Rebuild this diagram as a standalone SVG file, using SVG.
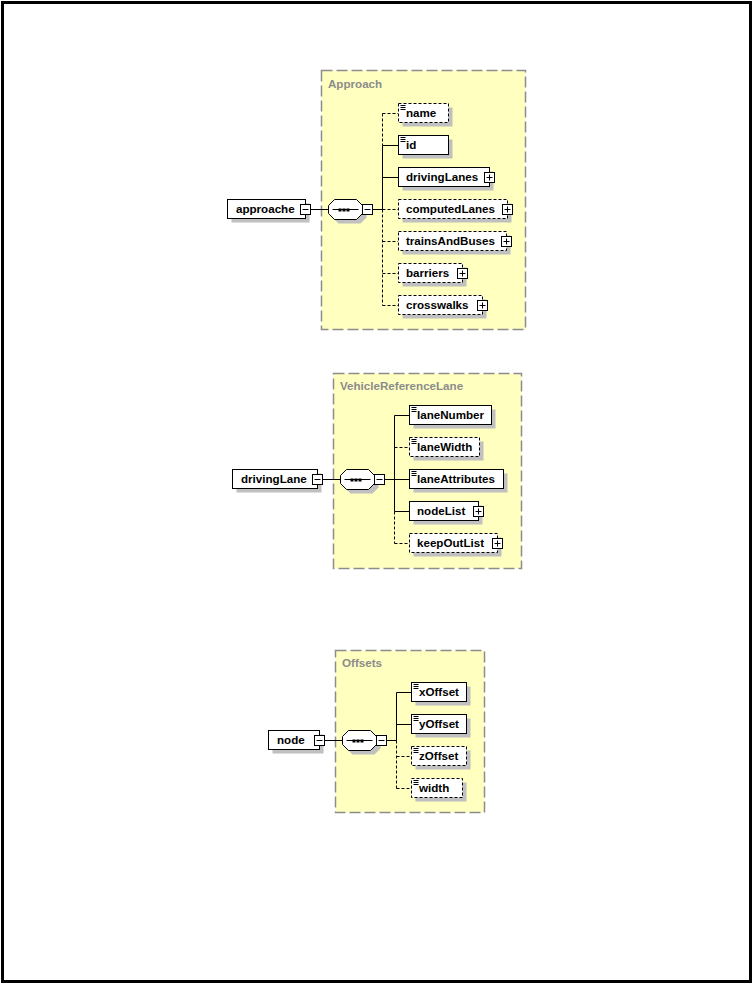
<svg xmlns="http://www.w3.org/2000/svg" width="753" height="985" viewBox="0 0 753 985">
<style>
.frame{fill:#fff;stroke:#000;stroke-width:3}
.grp{fill:#ffffc0;stroke:#8c8c8c;stroke-width:1.5;stroke-dasharray:11 4}
.gt{font-family:"Liberation Sans",Arial,sans-serif;font-weight:bold;font-size:11.6px;fill:#8c8c8c}
.sh{fill:#c0c0c0;stroke:none}
.bx{fill:#fff;stroke:#000;stroke-width:1}
.bd{fill:#fff;stroke:#000;stroke-width:1;stroke-dasharray:3 2}
.t{font-family:"Liberation Sans",Arial,sans-serif;font-weight:bold;font-size:11.6px;fill:#000}
.ln{stroke:#000;stroke-width:1;fill:none}
.dl{stroke:#000;stroke-width:1;fill:none;stroke-dasharray:3 2}
.ic{fill:#fff;stroke:#000;stroke-width:1}
.dot{fill:#000}
</style>
<defs>
<g id="plus"><rect class="ic" x="0" y="0" width="10" height="10"/><path class="ln" d="M2 5H8M5 2V8"/></g>
<g id="minus"><rect class="ic" x="0" y="0" width="10" height="10"/><path class="ln" d="M2 5H8"/></g>
<g id="doc"><path class="ln" d="M2 2H7M2 4H7M2 6H7"/></g>
<g id="seq">
<polygon class="sh" points="10,4 32,4 38,10 38,18 32,24 10,24 4,18 4,10"/>
<polygon class="bx" points="6,0 28,0 34,6 34,14 28,20 6,20 0,14 0,6"/>
<path class="ln" d="M4 10H30"/>
<rect class="dot" x="10" y="9" width="3" height="3"/>
<rect class="dot" x="14" y="9" width="3" height="3"/>
<rect class="dot" x="18" y="9" width="3" height="3"/>
<use href="#minus" x="34" y="5"/>
</g>
</defs>
<rect class="frame" x="2.5" y="2.5" width="748" height="979"/>

<!-- ===== Approach ===== -->
<g id="grp-approach">
<rect class="grp" x="321.5" y="70.5" width="204" height="259"/>
<text class="gt" x="328" y="88">Approach</text>
</g>
<g id="connectors-approach">
<path class="ln" d="M310.5 209.5H328.5M372.5 209.5H382.5"/>
<path class="dl" d="M382.5 113.5V145.5"/>
<path class="ln" d="M382.5 145.5V209.5"/>
<path class="dl" d="M382.5 209.5V305.5"/>
<path class="dl" d="M382.5 113.5H398"/>
<path class="ln" d="M382.5 145.5H398M382.5 177.5H398"/>
<path class="dl" d="M382.5 209.5H398M382.5 241.5H398M382.5 273.5H398M382.5 305.5H398"/>
</g>
<g id="approache">
<rect class="sh" x="231.5" y="203.5" width="78" height="19"/>
<rect class="bx" x="227.5" y="199.5" width="78" height="19"/>
<text class="t" x="236" y="213">approache</text>
<use href="#minus" x="300.5" y="204.5"/>
</g>
<g id="approach-seq"><use href="#seq" x="328.5" y="199.5"/></g>
<g id="name">
<rect class="sh" x="402.5" y="107.5" width="50" height="19"/>
<rect class="bd" x="398.5" y="103.5" width="50" height="19"/>
<use href="#doc" x="398.5" y="103.5"/>
<text class="t" x="406" y="117">name</text>
</g>
<g id="id">
<rect class="sh" x="402.5" y="139.5" width="50" height="19"/>
<rect class="bx" x="398.5" y="135.5" width="50" height="19"/>
<use href="#doc" x="398.5" y="135.5"/>
<text class="t" x="406" y="149">id</text>
</g>
<g id="drivingLanes">
<rect class="sh" x="402.5" y="171.5" width="91" height="19"/>
<rect class="bx" x="398.5" y="167.5" width="91" height="19"/>
<text class="t" x="406" y="181">drivingLanes</text>
<use href="#plus" x="484.5" y="172.5"/>
</g>
<g id="computedLanes">
<rect class="sh" x="402.5" y="203.5" width="109" height="19"/>
<rect class="bd" x="398.5" y="199.5" width="109" height="19"/>
<text class="t" x="406" y="213">computedLanes</text>
<use href="#plus" x="502.5" y="204.5"/>
</g>
<g id="trainsAndBuses">
<rect class="sh" x="402.5" y="235.5" width="108" height="19"/>
<rect class="bd" x="398.5" y="231.5" width="108" height="19"/>
<text class="t" x="406" y="245">trainsAndBuses</text>
<use href="#plus" x="501.5" y="236.5"/>
</g>
<g id="barriers">
<rect class="sh" x="402.5" y="267.5" width="64" height="19"/>
<rect class="bd" x="398.5" y="263.5" width="64" height="19"/>
<text class="t" x="406" y="277">barriers</text>
<use href="#plus" x="457.5" y="268.5"/>
</g>
<g id="crosswalks">
<rect class="sh" x="402.5" y="299.5" width="84" height="19"/>
<rect class="bd" x="398.5" y="295.5" width="84" height="19"/>
<text class="t" x="406" y="309">crosswalks</text>
<use href="#plus" x="477.5" y="300.5"/>
</g>

<!-- ===== VehicleReferenceLane ===== -->
<g id="grp-vrl">
<rect class="grp" x="333.5" y="373.5" width="188" height="195"/>
<text class="gt" x="340" y="390">VehicleReferenceLane</text>
</g>
<g id="connectors-vrl">
<path class="ln" d="M322.5 479.5H340.5M384.5 479.5H394.5"/>
<path class="ln" d="M394.5 415.5V511.5"/>
<path class="dl" d="M394.5 511.5V543.5"/>
<path class="ln" d="M394.5 415.5H410M394.5 479.5H410M394.5 511.5H410"/>
<path class="dl" d="M394.5 447.5H410M394.5 543.5H410"/>
</g>
<g id="drivingLane">
<rect class="sh" x="236.5" y="473.5" width="85" height="19"/>
<rect class="bx" x="232.5" y="469.5" width="85" height="19"/>
<text class="t" x="241" y="483">drivingLane</text>
<use href="#minus" x="312.5" y="474.5"/>
</g>
<g id="vrl-seq"><use href="#seq" x="340.5" y="469.5"/></g>
<g id="laneNumber">
<rect class="sh" x="413.5" y="409.5" width="82" height="19"/>
<rect class="bx" x="409.5" y="405.5" width="82" height="19"/>
<use href="#doc" x="409.5" y="405.5"/>
<text class="t" x="417" y="419">laneNumber</text>
</g>
<g id="laneWidth">
<rect class="sh" x="413.5" y="441.5" width="70" height="19"/>
<rect class="bd" x="409.5" y="437.5" width="70" height="19"/>
<use href="#doc" x="409.5" y="437.5"/>
<text class="t" x="417" y="451">laneWidth</text>
</g>
<g id="laneAttributes">
<rect class="sh" x="413.5" y="473.5" width="94" height="19"/>
<rect class="bx" x="409.5" y="469.5" width="94" height="19"/>
<use href="#doc" x="409.5" y="469.5"/>
<text class="t" x="417" y="483">laneAttributes</text>
</g>
<g id="nodeList">
<rect class="sh" x="413.5" y="505.5" width="69" height="19"/>
<rect class="bx" x="409.5" y="501.5" width="69" height="19"/>
<text class="t" x="417" y="515">nodeList</text>
<use href="#plus" x="473.5" y="506.5"/>
</g>
<g id="keepOutList">
<rect class="sh" x="413.5" y="537.5" width="88" height="19"/>
<rect class="bd" x="409.5" y="533.5" width="88" height="19"/>
<text class="t" x="417" y="547">keepOutList</text>
<use href="#plus" x="492.5" y="538.5"/>
</g>

<!-- ===== Offsets ===== -->
<g id="grp-offsets">
<rect class="grp" x="335.5" y="650.5" width="149" height="162"/>
<text class="gt" x="342" y="667">Offsets</text>
</g>
<g id="connectors-offsets">
<path class="ln" d="M324.5 740.5H342.5M386.5 740.5H396.5"/>
<path class="ln" d="M396.5 692.5V740.5"/>
<path class="dl" d="M396.5 740.5V788.5"/>
<path class="ln" d="M396.5 692.5H412M396.5 724.5H412"/>
<path class="dl" d="M396.5 756.5H412M396.5 788.5H412"/>
</g>
<g id="node">
<rect class="sh" x="272.5" y="734.5" width="51" height="19"/>
<rect class="bx" x="268.5" y="730.5" width="51" height="19"/>
<text class="t" x="277" y="744">node</text>
<use href="#minus" x="314.5" y="735.5"/>
</g>
<g id="offsets-seq"><use href="#seq" x="342.5" y="730.5"/></g>
<g id="xOffset">
<rect class="sh" x="415.5" y="686.5" width="55" height="19"/>
<rect class="bx" x="411.5" y="682.5" width="55" height="19"/>
<use href="#doc" x="411.5" y="682.5"/>
<text class="t" x="419" y="696">xOffset</text>
</g>
<g id="yOffset">
<rect class="sh" x="415.5" y="718.5" width="55" height="19"/>
<rect class="bx" x="411.5" y="714.5" width="55" height="19"/>
<use href="#doc" x="411.5" y="714.5"/>
<text class="t" x="419" y="728">yOffset</text>
</g>
<g id="zOffset">
<rect class="sh" x="415.5" y="750.5" width="55" height="19"/>
<rect class="bd" x="411.5" y="746.5" width="55" height="19"/>
<use href="#doc" x="411.5" y="746.5"/>
<text class="t" x="419" y="760">zOffset</text>
</g>
<g id="width">
<rect class="sh" x="415.5" y="782.5" width="51" height="19"/>
<rect class="bd" x="411.5" y="778.5" width="51" height="19"/>
<use href="#doc" x="411.5" y="778.5"/>
<text class="t" x="419" y="792">width</text>
</g>
</svg>
